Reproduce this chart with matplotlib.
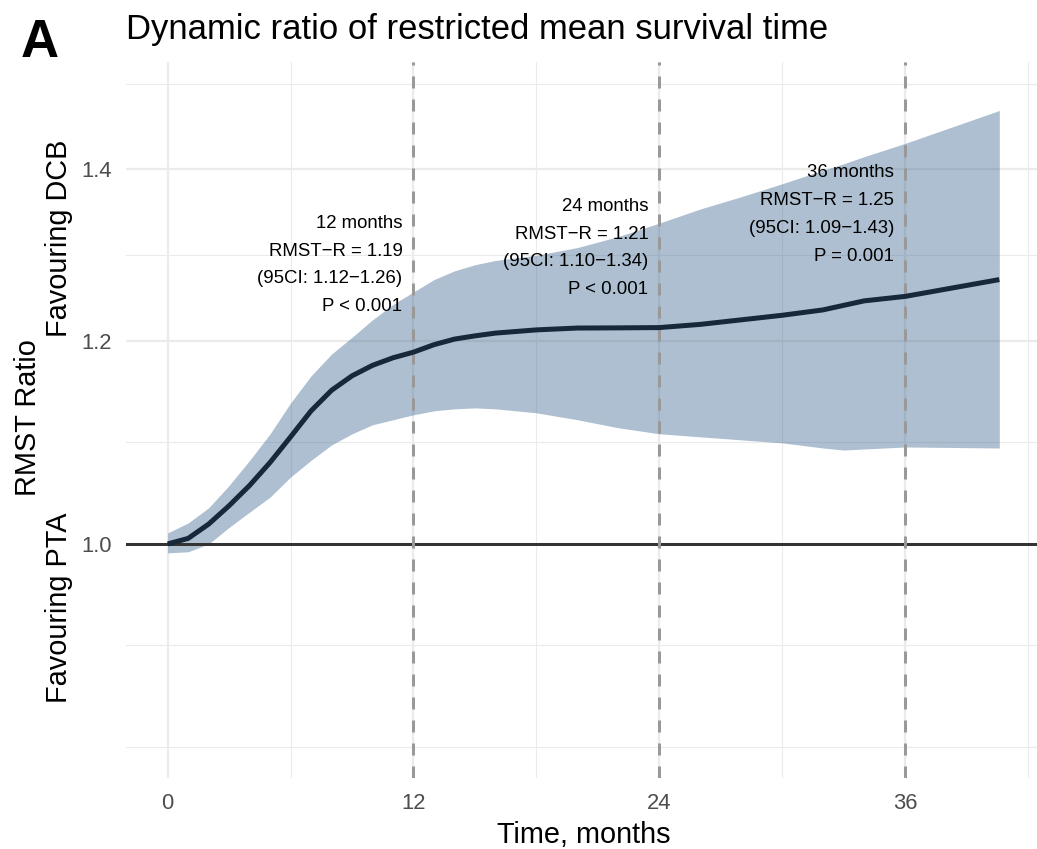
import numpy as np
import matplotlib
matplotlib.use("Agg")
import matplotlib.pyplot as plt

# ---------------- data ----------------
time_months = [0, 1, 2, 3, 4, 5, 6, 7, 8, 9, 10, 11, 12, 13, 14, 15, 16, 18, 20,
               22, 24, 26, 28, 30, 32, 33, 34, 36, 40.6]
rmst_ratio = [1.000, 1.005, 1.018, 1.035, 1.054, 1.076, 1.101, 1.127, 1.148, 1.163,
              1.174, 1.182, 1.188, 1.196, 1.202, 1.2055, 1.2085, 1.212, 1.214,
              1.2142, 1.2145, 1.218, 1.223, 1.228, 1.234, 1.239, 1.244, 1.249, 1.268]
ci_lower = [0.992, 0.993, 1.000, 1.015, 1.029, 1.043, 1.062, 1.078, 1.093, 1.104,
            1.113, 1.118, 1.123, 1.127, 1.129, 1.130, 1.129, 1.125, 1.118, 1.110,
            1.104, 1.101, 1.098, 1.095, 1.090, 1.088, 1.089, 1.091, 1.090]
ci_upper = [1.010, 1.019, 1.033, 1.054, 1.078, 1.104, 1.135, 1.163, 1.186, 1.204,
            1.223, 1.240, 1.254, 1.268, 1.278, 1.285, 1.290, 1.296, 1.305, 1.318,
            1.334, 1.351, 1.366, 1.382, 1.399, 1.407, 1.416, 1.433, 1.476]

x_breaks = [0, 12, 24, 36]
y_breaks = [1.0, 1.2, 1.4]
y_tick_labels = ["1.0", "1.2", "1.4"]

landmark_months = [12, 24, 36]
landmark_ratio = [1.19, 1.21, 1.25]
landmark_lo = [1.12, 1.10, 1.09]
landmark_hi = [1.26, 1.34, 1.43]
landmark_p = ["P < 0.001", "P < 0.001", "P = 0.001"]

title_text = "Dynamic ratio of restricted mean survival time"
tag_text = "A"
x_title = "Time, months"
y_title = "RMST Ratio"
y_low_label = "Favouring PTA"
y_high_label = "Favouring DCB"

# ---------------- figure ----------------
W, H, DPI = 1037, 849, 100
plt.rcParams['font.family'] = ['Liberation Sans', 'DejaVu Sans']
plt.rcParams['lines.scale_dashes'] = False
fig = plt.figure(figsize=(W / DPI, H / DPI), dpi=DPI)
PT = 72.0 / DPI  # points per pixel

left, right, top, bottom = 126, 1037, 62, 778
ax = fig.add_axes([left / W, 1 - bottom / H, (right - left) / W, (bottom - top) / H])
ax.set_yscale('log')
ax.set_xlim(-2.036, 42.44)
ax.set_ylim(0.8104, 1.5417)
for s in ax.spines.values():
    s.set_visible(False)

grid_col = '#EBEBEB'
# y grid (major + ggplot-style minor on log scale)
lm = np.log(y_breaks)
d = np.diff(lm)
ext = np.concatenate([[lm[0] - d[0]], lm, [lm[-1] + d[-1]]])
y_minor = np.exp(np.concatenate([ext, (ext[:-1] + ext[1:]) / 2]))
for v in y_minor:
    if not np.any(np.isclose(v, y_breaks)):
        ax.axhline(v, color=grid_col, lw=1.1 * PT, zorder=0)
for v in y_breaks:
    ax.axhline(v, color=grid_col, lw=2.2 * PT, zorder=0)
# x grid
xb = np.array(x_breaks, dtype=float)
xd = np.diff(xb)
xext = np.concatenate([[xb[0] - xd[0]], xb, [xb[-1] + xd[-1]]])
x_minor = (xext[:-1] + xext[1:]) / 2
for v in x_minor:
    ax.axvline(v, color=grid_col, lw=1.1 * PT, zorder=0)
for v in x_breaks:
    ax.axvline(v, color=grid_col, lw=2.2 * PT, zorder=0)

# ribbon and line
ax.fill_between(time_months, ci_lower, ci_upper, color='#34608A', alpha=0.4,
                linewidth=0, zorder=2)
ax.axhline(1.0, color='#333333', lw=3.0 * PT, zorder=3)
for m in landmark_months:
    ax.axvline(m, color='#999999', lw=3.0 * PT, zorder=3,
               dashes=(12 * PT, 11 * PT))
ax.plot(time_months, rmst_ratio, color='#16283A', lw=5.0 * PT,
        solid_capstyle='butt', solid_joinstyle='round', zorder=4)

# ticks
ax.set_xticks(x_breaks)
ax.set_xticklabels([str(v) for v in x_breaks])
ax.set_yticks(y_breaks)
ax.set_yticklabels(y_tick_labels)
ax.yaxis.set_minor_locator(matplotlib.ticker.NullLocator())
ax.tick_params(axis='both', length=0, labelsize=15.8, labelcolor='#4D4D4D')
ax.tick_params(axis='x', pad=15 * PT)
ax.tick_params(axis='y', pad=14 * PT)

# annotations
ann_fs = 13.4
line_sp = 27.7 * PT
for m, r, lo, hi, p in zip(landmark_months, landmark_ratio, landmark_lo,
                           landmark_hi, landmark_p):
    lines = [f"{m} months", f"RMST\u2212R = {r:.2f}",
             f"(95CI: {lo:.2f}\u2212{hi:.2f})", p]
    for i, t in enumerate(lines):
        dy = (1.5 - i) * line_sp - 0.358 * ann_fs - 2.5 * PT
        ax.annotate(t, xy=(m, r + 0.1), xytext=(-11 * PT, dy),
                    textcoords='offset points', ha='right', va='baseline',
                    fontsize=ann_fs, color='black', zorder=5)

# titles
fig.text(125.7 / W, 1 - 39.3 / H, title_text, fontsize=24.9, ha='left',
         va='baseline', color='black')
fig.text(20.5 / W, 1 - 57.3 / H, tag_text, fontsize=38, fontweight='bold',
         ha='left', va='baseline', color='black')
fig.text(584 / W, 1 - 842.7 / H, x_title, fontsize=20.8, ha='center',
         va='baseline', color='black')
fig.text(36 / W, 1 - 418 / H, y_title, fontsize=20.8, ha='center',
         va='baseline', rotation=90, rotation_mode='anchor', color='black')
fig.text(67 / W, 1 - 238 / H, y_high_label, fontsize=20.8, ha='center',
         va='baseline', rotation=90, rotation_mode='anchor', color='black')
fig.text(67 / W, 1 - 608 / H, y_low_label, fontsize=20.8, ha='center',
         va='baseline', rotation=90, rotation_mode='anchor', color='black')

fig.savefig('out.png', dpi=DPI, facecolor='white')
